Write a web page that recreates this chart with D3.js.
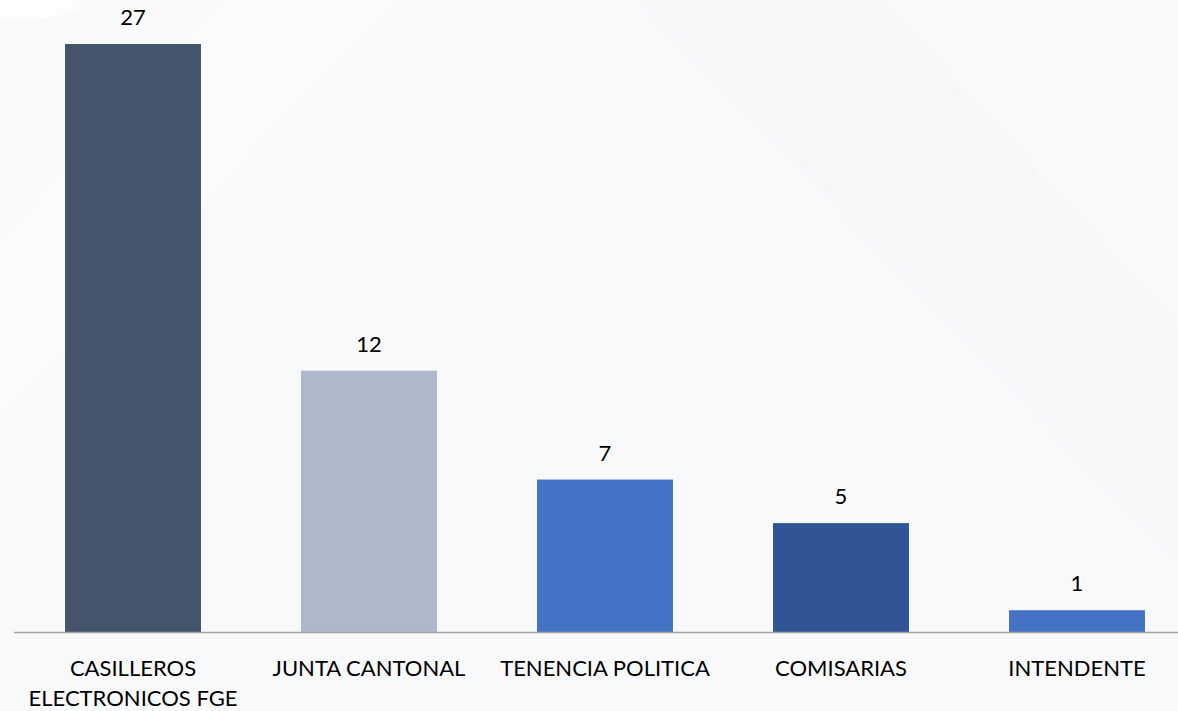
<!DOCTYPE html>
<html>
<head>
<meta charset="utf-8">
<script src="https://cdn.jsdelivr.net/npm/d3@7"></script>
<style>
  body { margin: 0; background: #f8f9fb; }
  svg { display: block; }
</style>
</head>
<body>
<div id="chart"></div>
<script>
// data
var categories = [["CASILLEROS", "ELECTRONICOS FGE"], ["JUNTA CANTONAL"], ["TENENCIA POLITICA"], ["COMISARIAS"], ["INTENDENTE"]];
var values = [27, 12, 7, 5, 1];
var barColors = ["#44546a", "#adb9ca", "#4472c4", "#2f5597", "#4472c4"];

function main()
{
    var svgWidth = 1178;
    var svgHeight = 711;
    var baseY = 632;

    var svg = d3.select("#chart").append("svg")
        .attr("width", svgWidth)
        .attr("height", svgHeight);

    // faint diagonal shapes in the background
    var bg = svg.append("g");
    bg.append("rect").attr("width", svgWidth).attr("height", svgHeight).attr("fill", "#f8f9fb");
    bg.append("path").attr("d", "M0,235 L220,0 L400,0 L0,420 Z").attr("fill", "#ffffff").attr("opacity", 0.35);
    bg.append("path").attr("d", "M640,0 L880,0 L1178,330 L1178,560 Z").attr("fill", "#f4f5f8").attr("opacity", 0.6);
    bg.append("ellipse").attr("cx", 20).attr("cy", 5).attr("rx", 60).attr("ry", 14).attr("fill", "#ffffff").attr("opacity", 0.7);

    var keys = categories.map(function(c, i) { return "c" + i; });

    var xScale = d3.scaleBand()
        .domain(keys)
        .range([15, 1195])
        .paddingInner(0.424)
        .paddingOuter(0.212);

    var yScale = d3.scaleLinear()
        .domain([0, 27])
        .range([baseY, 44]);

    var g = svg.append("g");

    // bars
    g.selectAll(".bar")
        .data(values)
        .enter()
        .append("rect")
        .attr("class", "bar")
        .attr("x", function(d, i) { return xScale(keys[i]); })
        .attr("y", function(d) { return yScale(d); })
        .attr("width", xScale.bandwidth())
        .attr("height", function(d) { return baseY - yScale(d); })
        .attr("fill", function(d, i) { return barColors[i]; });

    // value labels
    g.selectAll(".val")
        .data(values)
        .enter()
        .append("text")
        .attr("class", "val")
        .attr("x", function(d, i) { return xScale(keys[i]) + xScale.bandwidth() / 2; })
        .attr("y", function(d) { return yScale(d) - 19; })
        .attr("text-anchor", "middle")
        .attr("font-family", "Lato, 'Open Sans', sans-serif")
        .attr("font-size", "22px")
        .attr("fill", "#000")
        .text(function(d) { return d; });

    // x axis
    var axis = g.append("g")
        .attr("transform", "translate(0," + baseY + ")")
        .call(d3.axisBottom(xScale).tickSize(0).tickFormat(""));
    axis.select(".domain").attr("stroke", "#a6a6a6").attr("stroke-width", 1.5)
        .attr("d", "M14,0.5H1178");

    // category labels, may be two lines
    var lbl = axis.selectAll(".tick text")
        .attr("font-family", "Lato, 'Open Sans', sans-serif")
        .attr("font-size", "22px")
        .attr("fill", "#000")
        .attr("y", 0)
        .attr("dy", 0);
    lbl.each(function(k, i) {
        var t = d3.select(this);
        var idx = keys.indexOf(k);
        categories[idx].forEach(function(line, j) {
            t.append("tspan")
                .attr("x", 0)
                .attr("y", 44 + j * 30)
                .text(line);
        });
    });
}
main();
</script>
</body>
</html>
